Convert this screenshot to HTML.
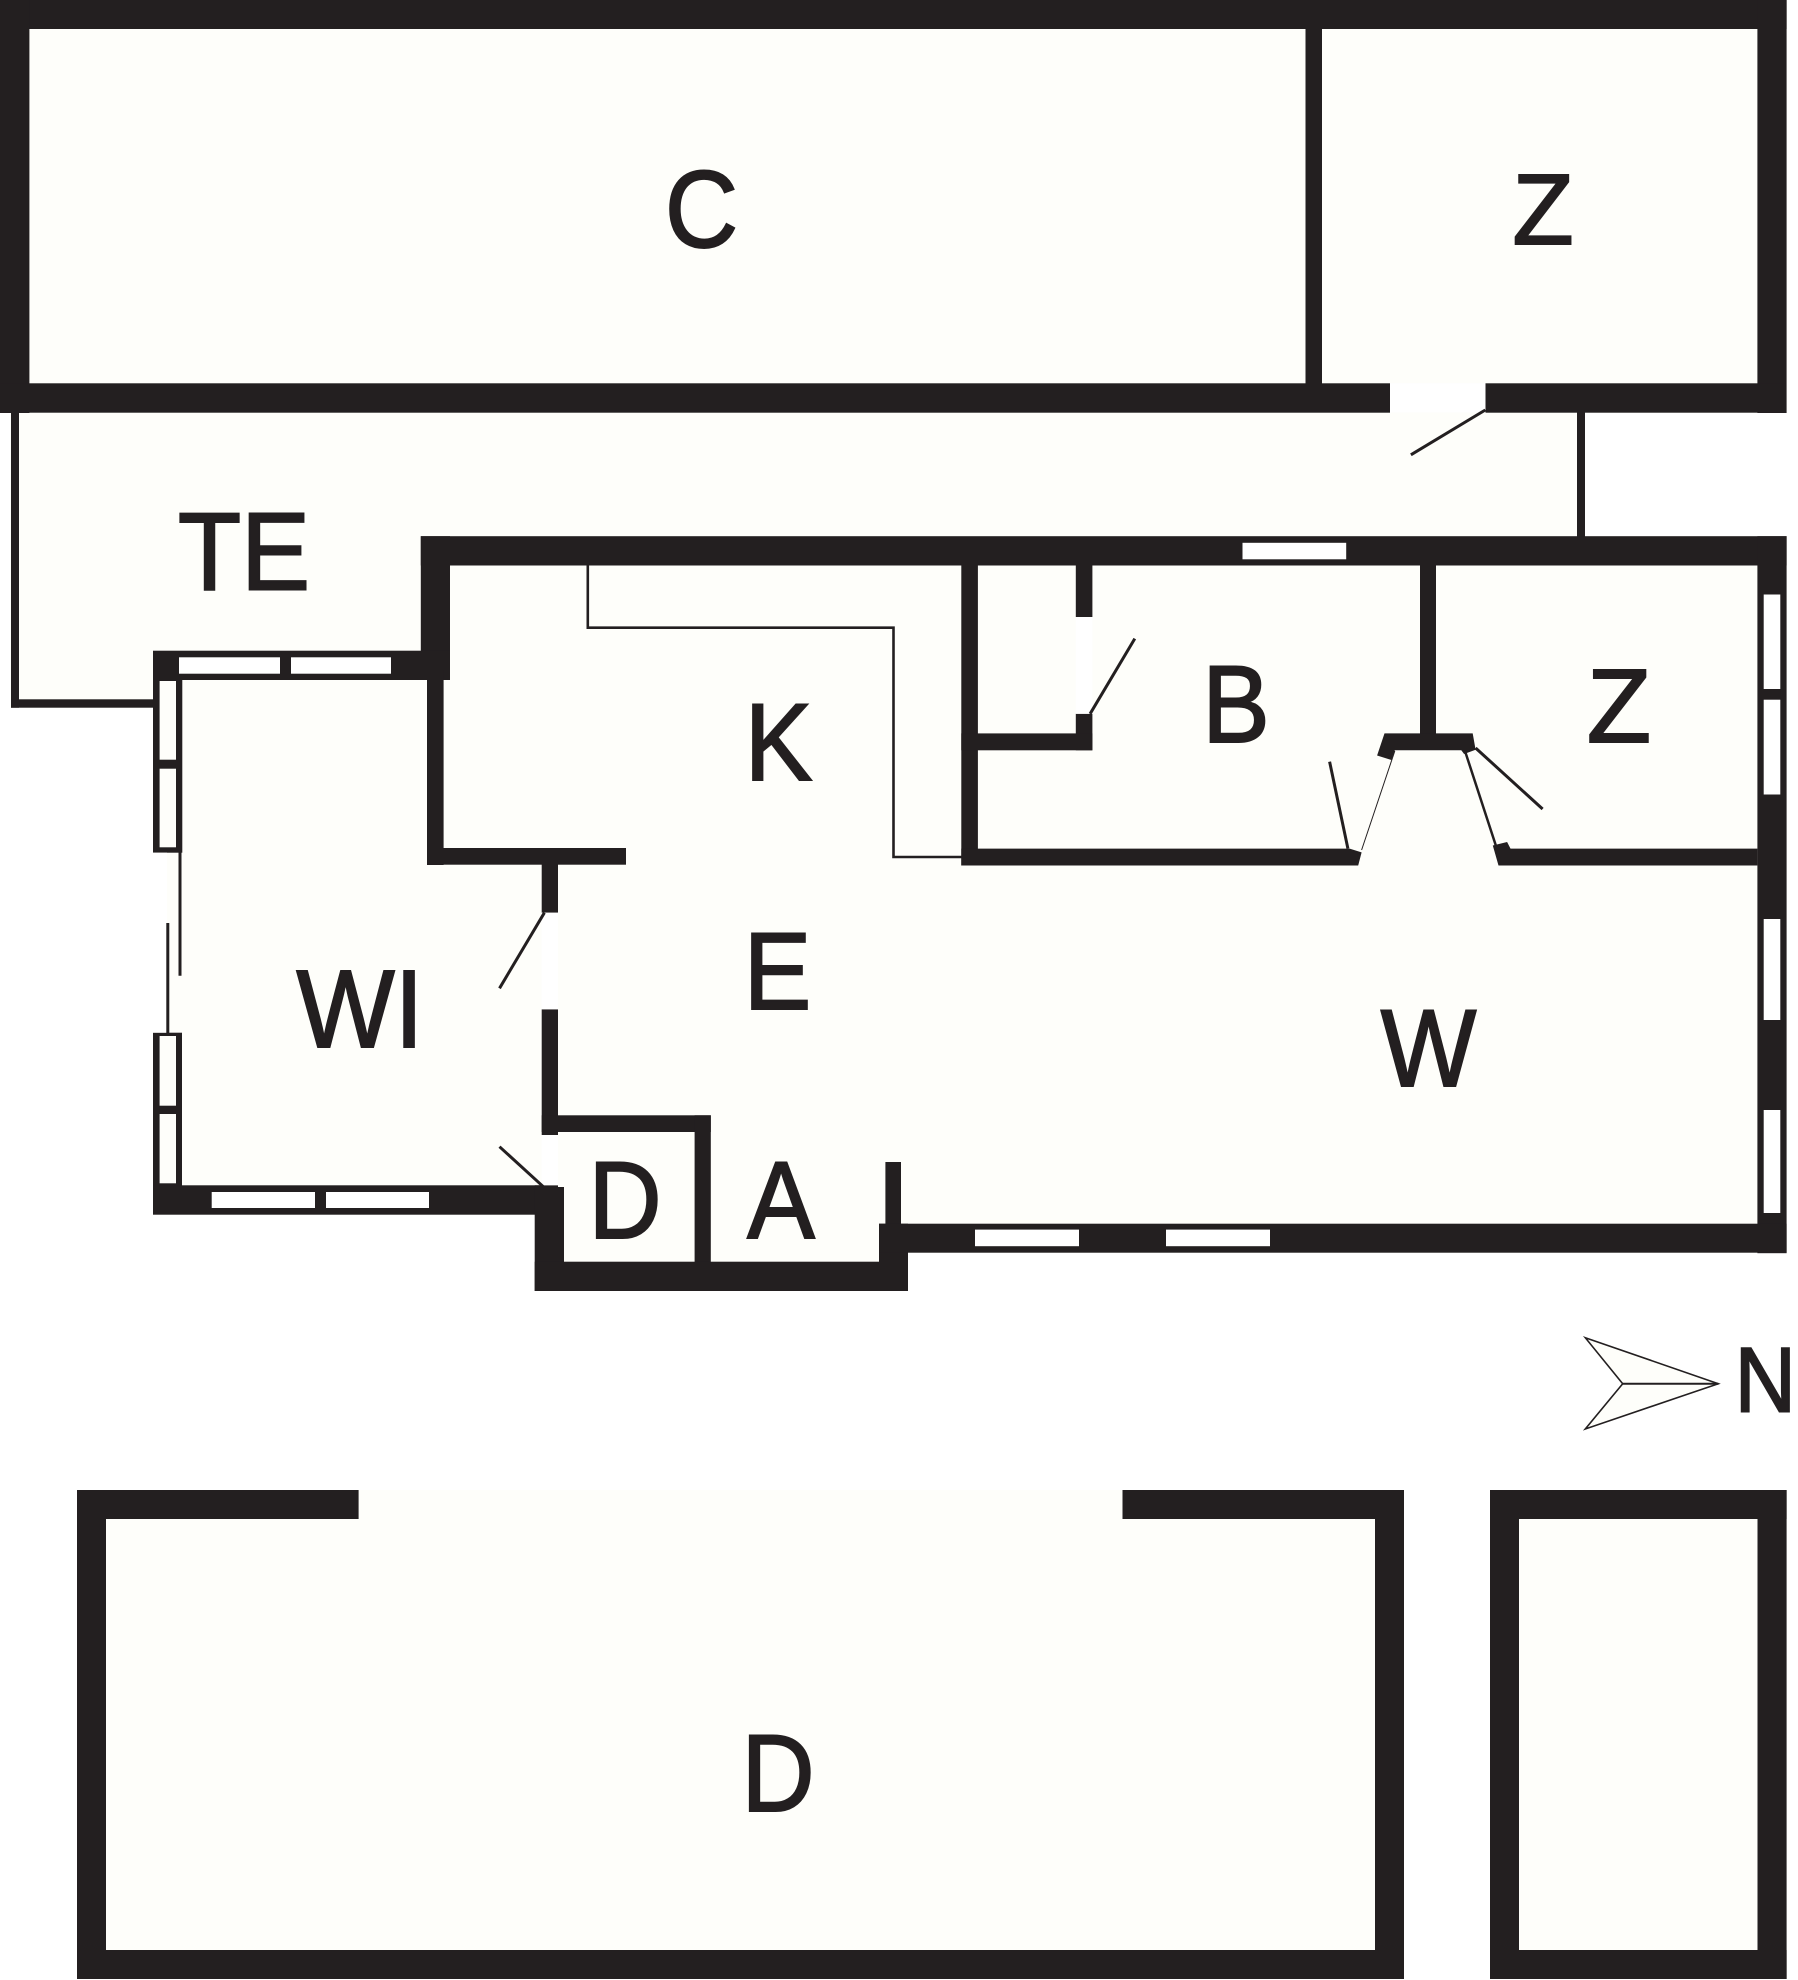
<!DOCTYPE html>
<html><head><meta charset="utf-8"><style>
html,body{margin:0;padding:0;background:#fff}
svg{display:block}
text{font-family:"Liberation Sans",sans-serif;fill:#231f20;stroke:#231f20;stroke-width:2;text-anchor:middle}
</style></head><body>
<svg xmlns="http://www.w3.org/2000/svg" width="1798" height="1980" viewBox="0 0 1798 1980">
<rect width="1798" height="1980" fill="#fff"/>
<g fill="#fefefa">
<rect x="0" y="0" width="1786.6" height="413"/>
<polygon points="10,412 1585,412 1585,537 421,537 421,651 153,651 153,708 10,708"/>
<polygon points="421,536 1786.6,536 1786.6,1253 908,1253 908,1291 535,1291 535,1215 153,1215 153,651 421,651"/>
<rect x="77" y="1490" width="1327" height="489"/>
<rect x="1490" y="1490" width="296.6" height="489"/>
</g>
<g fill="#231f20">
<!-- top building -->
<rect x="0" y="0" width="1786.6" height="29"/>
<rect x="0" y="0" width="29.4" height="413"/>
<rect x="1757.4" y="0" width="29.2" height="413"/>
<rect x="0" y="383.3" width="1390" height="29.4"/>
<rect x="1485.5" y="383.3" width="301" height="29.4"/>
<rect x="1305.5" y="20" width="16.5" height="370"/>
<!-- terrace thin walls -->
<rect x="11" y="412" width="8" height="295.7"/>
<rect x="11" y="699.3" width="143" height="8.4"/>
<rect x="1577" y="412" width="8" height="125"/>
<!-- house walls -->
<rect x="420.8" y="536.2" width="1365.8" height="29.3"/>
<rect x="420.8" y="536.2" width="29.2" height="143.8"/>
<rect x="153" y="650.7" width="297" height="29.3"/>
<rect x="1757.4" y="536.2" width="29.2" height="717"/>
<rect x="427" y="670" width="16.6" height="195"/>
<rect x="427" y="848" width="199" height="16.7"/>
<rect x="541.7" y="864" width="16.3" height="48.7"/>
<rect x="541.7" y="1009.3" width="16.3" height="125.7"/>
<rect x="541.7" y="1115.3" width="169.1" height="16.7"/>
<rect x="694.6" y="1115.3" width="16.2" height="165"/>
<rect x="153" y="1185.3" width="411" height="29.4"/>
<rect x="534.7" y="1185.3" width="29.3" height="105.7"/>
<rect x="534.7" y="1261.7" width="373.3" height="29.3"/>
<rect x="879" y="1223.7" width="29" height="67.3"/>
<rect x="885.4" y="1162" width="15.6" height="62"/>
<rect x="879" y="1223.7" width="907.6" height="29"/>
<!-- left window column -->
<rect x="153" y="680" width="29.3" height="172.7"/>
<rect x="153" y="1032.7" width="29" height="153"/>
<!-- K/B walls -->
<rect x="961.3" y="565" width="16.6" height="300.5"/>
<polygon points="961.3,848.6 1349.6,848.6 1361.6,852.4 1358.2,865.5 961.3,865.5"/>
<polygon points="1492.8,845.5 1507.1,842 1510.5,848.6 1757.4,848.6 1757.4,865.5 1498.5,865.5"/>
<rect x="1075.8" y="565" width="16.6" height="52"/>
<rect x="1075.8" y="713.8" width="16.6" height="36.5"/>
<rect x="961.3" y="733.4" width="131.1" height="16.9"/>
<rect x="1420" y="565" width="16" height="170"/>
<polygon points="1384.5,733.4 1472.7,733.4 1475.6,749.7 1464.1,754 1461.3,750.3 1394.8,750.3 1391.4,760 1377.1,755.5"/>
<!-- bottom buildings -->
<rect x="77" y="1490" width="29" height="489"/>
<rect x="77" y="1490" width="281.6" height="29"/>
<rect x="1122.5" y="1490" width="281.5" height="29"/>
<rect x="1375" y="1490" width="29" height="489"/>
<rect x="77" y="1950" width="1327" height="29"/>
<rect x="1490" y="1490" width="29" height="489"/>
<rect x="1757.5" y="1490" width="29.1" height="489"/>
<rect x="1490" y="1490" width="296.6" height="29"/>
<rect x="1490" y="1950" width="296.6" height="29"/>
</g>
<!-- door gaps -->
<g fill="#fff">
<rect x="541.7" y="912.7" width="16.3" height="96.6"/>
<rect x="1075.8" y="617" width="16.6" height="96.8"/>
<rect x="1390" y="383.3" width="95.5" height="29"/>
<rect x="153" y="852.7" width="14" height="180"/>
</g>
<rect x="541.7" y="1135" width="22.3" height="50.3" fill="#fff"/>
<rect x="558" y="1132" width="6" height="55" fill="#fefefa"/>
<!-- windows -->
<g fill="#fff">
<rect x="179" y="657.3" width="101" height="16.4"/>
<rect x="291" y="657.3" width="100" height="16.4"/>
<rect x="211.7" y="1192" width="103.3" height="16"/>
<rect x="326" y="1192" width="103" height="16"/>
<rect x="1242.5" y="542.8" width="103.7" height="16.5"/>
<rect x="1763.7" y="594.5" width="16.6" height="94.5"/>
<rect x="1763.7" y="699.7" width="16.6" height="94.8"/>
<rect x="1763.7" y="919" width="16.6" height="101"/>
<rect x="1763.7" y="1110" width="16.6" height="103"/>
<rect x="975" y="1229.6" width="104" height="16.6"/>
<rect x="1166" y="1229.6" width="104" height="16.6"/>
</g>
<g fill="#fefefa">
<rect x="159.6" y="681" width="16.4" height="78.7"/>
<rect x="159.6" y="768.7" width="16.4" height="78.6"/>
<rect x="159.6" y="1036" width="16.4" height="69.7"/>
<rect x="159.6" y="1114" width="16.4" height="69.3"/>
</g>
<!-- thin lines / door leaves -->
<g fill="none" stroke="#231f20" stroke-width="3">
<path d="M180,852 V975.7"/>
<path d="M167.8,923 V1033"/>
<path d="M544.4,912.7 L499.5,988.3"/>
<path d="M544.4,1187.7 L499.5,1146.7"/>
<path d="M1485.3,410 L1410.9,454.8"/>
<path d="M1090.1,713.8 L1134.8,638.6"/>
<path d="M1347.9,848.6 L1329.6,761.7"/>
<path d="M1475.6,748 L1542.6,809"/>
<path d="M1465,751 L1496,846" stroke-width="2.5"/>
<path d="M1394.8,751 L1361.6,850" stroke-width="1"/>
<path d="M587.8,565 V627.7 H893.5 V857 H962" stroke-width="2.6"/>
</g>
<!-- north arrow -->
<polygon points="1585.3,1337.7 1718.3,1383.7 1585.3,1429 1622.7,1383.7" fill="#fefefa" stroke="#231f20" stroke-width="1.6"/>
<path d="M1622.7,1383.7 H1718.3" stroke="#231f20" stroke-width="2"/>
<!-- labels -->
<text transform="translate(701.5,247) scale(.92,1)" font-size="110">C</text>
<text x="1543" y="244" font-size="100">Z</text>
<text x="244" y="589.3" font-size="110" textLength="132" lengthAdjust="spacingAndGlyphs">TE</text>
<text transform="translate(1236,742) scale(.92,1)" font-size="110">B</text>
<text x="1619" y="742" font-size="105">Z</text>
<text transform="translate(778.5,780) scale(.92,1)" font-size="110">K</text>
<text transform="translate(777.5,1009) scale(.92,1)" font-size="110">E</text>
<text x="360" y="1047" font-size="110" textLength="127" lengthAdjust="spacingAndGlyphs">WI</text>
<text transform="translate(1428.5,1086) scale(.92,1)" font-size="110">W</text>
<text transform="translate(625,1238) scale(.92,1)" font-size="110">D</text>
<text transform="translate(781,1238) scale(.92,1)" font-size="110">A</text>
<text transform="translate(778,1811) scale(.92,1)" font-size="110">D</text>
<text transform="translate(1765.3,1411.7) scale(.92,1)" font-size="92">N</text>
</svg>
</body></html>
